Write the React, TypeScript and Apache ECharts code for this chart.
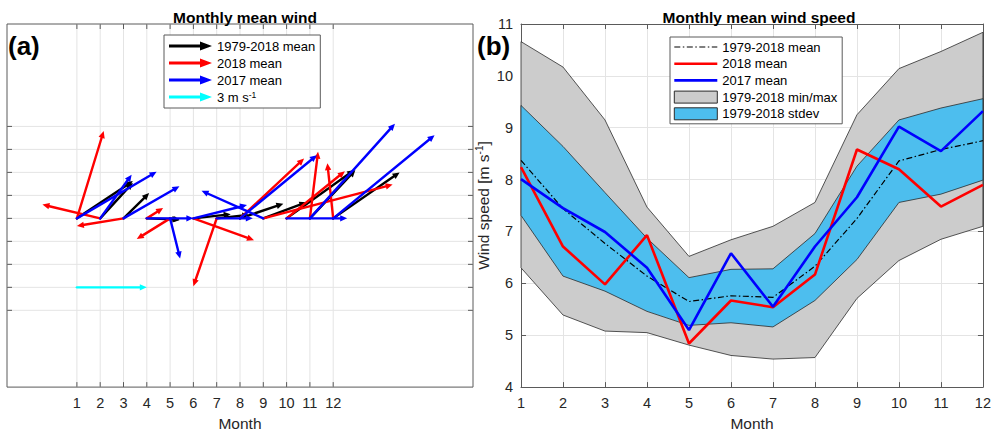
import React, { useEffect, useRef } from 'react';
import * as echarts from 'echarts';

const FONT = 'Liberation Sans, Arial, Helvetica, sans-serif';

// ---------- panel (a): monthly mean wind vectors ----------
const months = [1, 2, 3, 4, 5, 6, 7, 8, 9, 10, 11, 12];
const climU = [2.4, 1.4, 1.1, 1.4, 0.4, 1.6, 1.4, 1.86, 1.85, 2.9, 1.95, 2.85];
const climV = [1.62, 1.55, 1.1, -0.05, -0.08, 0.18, 0.15, 0.64, 0.7, 2.1, 2.1, 2.0];
const u2018 = [1.15, -2.48, -2.0, 0.7, -1.43, 2.6, -1.0, 2.75, 5.55, 2.5, 0.35, -0.25];
const v2018 = [3.8, 0.6, -0.33, 0.45, -0.9, -0.95, -2.95, 2.6, 1.47, 2.05, 2.9, 2.4];
const u2017 = [3.42, 1.35, 2.4, 2.0, 0.43, 2.3, 1.55, 3.3, -2.65, 2.6, 3.65, 4.35];
const v2017 = [2.03, 1.9, 1.4, 0, -1.75, 0.58, 0, 2.75, 1.2, 0, 4.12, 3.62];
const refOrigin = [1, -3];
const refVector = [3, 0];
const gridTicksXA = [1, 2, 3, 4, 5, 6, 7, 8, 9, 10, 11, 12];
const gridTicksYA = [-4, -3, -2, -1, 0, 1, 2, 3, 4];

// ---------- panel (b): monthly mean wind speed ----------
const maxSpeed = [10.66, 10.17, 9.15, 7.47, 6.52, 6.84, 7.1, 7.56, 9.25, 10.14, 10.47, 10.84];
const minSpeed = [6.3, 5.39, 5.08, 5.05, 4.81, 4.61, 4.54, 4.57, 5.71, 6.44, 6.85, 7.1];
const sdHigh = [9.43, 8.64, 7.75, 6.87, 6.11, 6.27, 6.28, 6.96, 8.26, 9.15, 9.38, 9.56];
const sdLow = [7.31, 6.14, 5.85, 5.46, 5.19, 5.24, 5.16, 5.67, 6.46, 7.56, 7.72, 7.99];
const meanSpeed = [8.37, 7.44, 6.77, 6.14, 5.65, 5.76, 5.73, 6.33, 7.25, 8.36, 8.58, 8.75];
const speed2018 = [8.24, 6.71, 5.98, 6.93, 4.84, 5.67, 5.54, 6.17, 8.58, 8.2, 7.48, 7.9];
const speed2017 = [8.01, 7.45, 6.99, 6.3, 5.1, 6.58, 5.55, 6.71, 7.66, 9.02, 8.55, 9.32];

const AXIS_COLOR = '#5a5a5a';
const GRID_COLOR = '#e4e4e4';
const TEXT_COLOR = '#262626';

const ARROW_ICON = 'path://M0,3.6L31,3.6L31,0.6L43,5L31,9.4L31,6.4L0,6.4Z';

function vecData(u: number[], v: number[]) {
  return months.map((m, i) => [m, 0, u[i], v[i]]);
}

function arrowSeries(name: string, color: string, data: number[][], z: number) {
  return {
    type: 'custom',
    name,
    xAxisIndex: 0,
    yAxisIndex: 0,
    z,
    silent: true,
    itemStyle: { color },
    encode: { x: 0, y: 1 },
    data,
    renderItem: (params: any, api: any) => {
      const x0 = api.value(0);
      const y0 = api.value(1);
      const u = api.value(2);
      const v = api.value(3);
      const p0 = api.coord([x0, y0]);
      const p1 = api.coord([x0 + u, y0 + v]);
      const dx = p1[0] - p0[0];
      const dy = p1[1] - p0[1];
      const L = Math.hypot(dx, dy);
      if (L < 0.5) return null;
      const ux = dx / L;
      const uy = dy / L;
      const hl = Math.min(7, L * 0.6);
      const hw = 3.2;
      const bx = p1[0] - ux * hl;
      const by = p1[1] - uy * hl;
      return {
        type: 'group',
        children: [
          {
            type: 'line',
            shape: { x1: p0[0], y1: p0[1], x2: bx + ux * 1, y2: by + uy * 1 },
            style: { stroke: color, lineWidth: 2.4, lineCap: 'round' },
          },
          {
            type: 'polygon',
            shape: {
              points: [
                [p1[0], p1[1]],
                [bx - uy * hw, by + ux * hw],
                [bx + uy * hw, by - ux * hw],
              ],
            },
            style: { fill: color },
          },
        ],
      };
    },
  };
}

function gridSeriesA() {
  const data = [
    ...gridTicksXA.map((x) => [x, 0]),
    ...gridTicksYA.map((y) => [y, 1]),
  ];
  return {
    type: 'custom',
    name: 'gridA',
    xAxisIndex: 0,
    yAxisIndex: 0,
    z: 1,
    silent: true,
    encode: { x: 0, y: 1 },
    data,
    renderItem: (params: any, api: any) => {
      const val = api.value(0);
      const kind = api.value(1);
      const cs = params.coordSys;
      const top = cs.y;
      const bottom = cs.y + cs.height;
      const left = cs.x;
      const right = cs.x + cs.width;
      const t = 5;
      if (kind === 0) {
        const px = api.coord([val, 0])[0];
        return {
          type: 'group',
          children: [
            { type: 'line', shape: { x1: px, y1: top, x2: px, y2: bottom }, style: { stroke: GRID_COLOR, lineWidth: 1 } },
            { type: 'line', shape: { x1: px, y1: bottom, x2: px, y2: bottom - t }, style: { stroke: AXIS_COLOR, lineWidth: 1 } },
            { type: 'line', shape: { x1: px, y1: top, x2: px, y2: top + t }, style: { stroke: AXIS_COLOR, lineWidth: 1 } },
          ],
        };
      }
      const py = api.coord([0, val])[1];
      return {
        type: 'group',
        children: [
          { type: 'line', shape: { x1: left, y1: py, x2: right, y2: py }, style: { stroke: GRID_COLOR, lineWidth: 1 } },
          { type: 'line', shape: { x1: left, y1: py, x2: left + t, y2: py }, style: { stroke: AXIS_COLOR, lineWidth: 1 } },
          { type: 'line', shape: { x1: right, y1: py, x2: right - t, y2: py }, style: { stroke: AXIS_COLOR, lineWidth: 1 } },
        ],
      };
    },
  };
}

function bandSeries(name: string, lo: number[], hi: number[], fill: string, z: number) {
  return {
    type: 'custom',
    name,
    xAxisIndex: 1,
    yAxisIndex: 1,
    z,
    silent: true,
    itemStyle: { color: fill },
    encode: { x: 0, y: 1 },
    data: [[months[0], lo[0]]],
    renderItem: (params: any, api: any) => {
      const upper = months.map((m, i) => api.coord([m, hi[i]]));
      const lower = months.map((m, i) => api.coord([m, lo[i]])).reverse();
      return {
        type: 'polygon',
        shape: { points: upper.concat(lower) },
        style: { fill, stroke: '#2b2b2b', lineWidth: 0.8 },
      };
    },
  };
}

function lineSeries(name: string, values: number[], color: string, width: number, type: any, z: number) {
  return {
    type: 'line',
    name,
    xAxisIndex: 1,
    yAxisIndex: 1,
    z,
    silent: true,
    symbol: 'none',
    data: months.map((m, i) => [m, values[i]]),
    itemStyle: { color },
    lineStyle: { color, width, type },
  };
}

const axisLabelStyle = { color: TEXT_COLOR, fontSize: 14.5, fontFamily: FONT };
const nameStyle = { color: TEXT_COLOR, fontSize: 15.5, fontFamily: FONT };

export default function App() {
  const ref = useRef<HTMLDivElement>(null);
  useEffect(() => {
    if (!ref.current) return;
    const chart = echarts.init(ref.current, undefined, { renderer: 'svg' });
    const option: any = {
      animation: false,
      backgroundColor: '#ffffff',
      title: [
        {
          text: 'Monthly mean wind',
          left: 240,
          top: 4,
          textAlign: 'center',
          textStyle: { fontSize: 15.5, fontWeight: 'bold', color: '#000', fontFamily: FONT },
        },
        {
          text: 'Monthly mean wind speed',
          left: 754,
          top: 4,
          textAlign: 'center',
          textStyle: { fontSize: 15.5, fontWeight: 'bold', color: '#000', fontFamily: FONT },
        },
      ],
      graphic: [
        { type: 'text', left: 8, top: 33, style: { text: '(a)', font: 'bold 26px ' + FONT, fill: '#000' } },
        { type: 'text', left: 477, top: 33, style: { text: '(b)', font: 'bold 26px ' + FONT, fill: '#000' } },
      ],
      legend: [
        {
          left: 164,
          top: 35,
          orient: 'vertical',
          padding: [4, 5, 4, 5],
          itemGap: 3,
          itemWidth: 43,
          itemHeight: 10,
          backgroundColor: '#fff',
          borderColor: AXIS_COLOR,
          borderWidth: 1,
          borderRadius: 0,
          selectedMode: false,
          textStyle: {
            fontSize: 13,
            lineHeight: 14,
            color: '#000',
            fontFamily: FONT,
            rich: { sup: { fontSize: 8.5, lineHeight: 8, verticalAlign: 'top', fontFamily: FONT, color: '#000' } },
          },
          formatter: (n: string) => (n === '3 m s-1' ? '3 m s{sup|-1}' : n),
          data: [
            { name: '1979-2018 mean', icon: ARROW_ICON, itemStyle: { color: '#000000' } },
            { name: '2018 mean', icon: ARROW_ICON, itemStyle: { color: '#ff0000' } },
            { name: '2017 mean', icon: ARROW_ICON, itemStyle: { color: '#0000ff' } },
            { name: '3 m s-1', icon: ARROW_ICON, itemStyle: { color: '#00ffff' } },
          ],
        },
        {
          left: 670,
          top: 37,
          orient: 'vertical',
          padding: [3, 5, 3, 3],
          itemGap: 2.7,
          itemWidth: 43,
          itemHeight: 12,
          backgroundColor: '#fff',
          borderColor: AXIS_COLOR,
          borderWidth: 1,
          borderRadius: 0,
          selectedMode: false,
          lineStyle: { width: 'inherit' },
          textStyle: { fontSize: 13, lineHeight: 14, color: '#000', fontFamily: FONT },
          formatter: (n: string) => n.replace(' (b)', ''),
          data: [
            { name: '1979-2018 mean (b)', itemStyle: { opacity: 0 } },
            { name: '2018 mean (b)', itemStyle: { opacity: 0 } },
            { name: '2017 mean (b)', itemStyle: { opacity: 0 } },
            { name: '1979-2018 min/max', icon: 'rect', itemStyle: { color: '#cccccc', borderColor: '#2b2b2b', borderWidth: 1 } },
            { name: '1979-2018 stdev', icon: 'rect', itemStyle: { color: '#4dbeee', borderColor: '#2b2b2b', borderWidth: 1 } },
          ],
        },
      ],
      grid: [
        { left: 7, top: 24, width: 466, height: 368, show: true, borderColor: AXIS_COLOR, borderWidth: 1, backgroundColor: 'transparent' },
        { left: 521, top: 24, width: 466, height: 369 },
      ],
      xAxis: [
        {
          gridIndex: 0,
          type: 'value',
          min: -2,
          max: 18,
          interval: 1,
          axisLine: { show: false },
          axisTick: { show: false },
          splitLine: { show: false },
          axisLabel: { ...axisLabelStyle, margin: 8, formatter: (v: number) => (v >= 1 && v <= 12 ? String(v) : '') },
          name: 'Month',
          nameLocation: 'middle',
          nameGap: 25,
          nameTextStyle: nameStyle,
        },
        {
          gridIndex: 1,
          type: 'value',
          min: 1,
          max: 12,
          interval: 1,
          axisLine: { show: true, lineStyle: { color: AXIS_COLOR, width: 1 } },
          axisTick: { show: true, inside: true, length: 5, lineStyle: { color: AXIS_COLOR } },
          splitLine: { show: true, lineStyle: { color: GRID_COLOR, width: 1 } },
          axisLabel: { ...axisLabelStyle, margin: 8 },
          name: 'Month',
          nameLocation: 'middle',
          nameGap: 25,
          nameTextStyle: nameStyle,
        },
        {
          gridIndex: 1,
          type: 'value',
          position: 'top',
          min: 1,
          max: 12,
          interval: 1,
          axisLine: { show: true, lineStyle: { color: AXIS_COLOR, width: 1 } },
          axisTick: { show: true, inside: true, length: 5, lineStyle: { color: AXIS_COLOR } },
          splitLine: { show: false },
          axisLabel: { show: false },
        },
      ],
      yAxis: [
        {
          gridIndex: 0,
          type: 'value',
          min: -7.34,
          max: 8.455,
          axisLine: { show: false },
          axisTick: { show: false },
          splitLine: { show: false },
          axisLabel: { show: false },
        },
        {
          gridIndex: 1,
          type: 'value',
          min: 4,
          max: 11,
          interval: 1,
          axisLine: { show: true, lineStyle: { color: AXIS_COLOR, width: 1 } },
          axisTick: { show: true, inside: true, length: 5, lineStyle: { color: AXIS_COLOR } },
          splitLine: { show: true, lineStyle: { color: GRID_COLOR, width: 1 } },
          axisLabel: { ...axisLabelStyle, margin: 8 },
          name: 'Wind speed [m s{sup|-1}]',
          nameLocation: 'middle',
          nameGap: 29,
          nameTextStyle: {
            ...nameStyle,
            lineHeight: 18,
            rich: { sup: { fontSize: 10, lineHeight: 10, verticalAlign: 'top', color: TEXT_COLOR, fontFamily: FONT } },
          },
        },
        {
          gridIndex: 1,
          type: 'value',
          position: 'right',
          min: 4,
          max: 11,
          interval: 1,
          axisLine: { show: true, lineStyle: { color: AXIS_COLOR, width: 1 } },
          axisTick: { show: true, inside: true, length: 5, lineStyle: { color: AXIS_COLOR } },
          splitLine: { show: false },
          axisLabel: { show: false },
        },
      ],
      series: [
        gridSeriesA(),
        arrowSeries('1979-2018 mean', '#000000', vecData(climU, climV), 3),
        arrowSeries('2018 mean', '#ff0000', vecData(u2018, v2018), 4),
        arrowSeries('2017 mean', '#0000ff', vecData(u2017, v2017), 5),
        arrowSeries('3 m s-1', '#00ffff', [[refOrigin[0], refOrigin[1], refVector[0], refVector[1]]], 6),
        bandSeries('1979-2018 min/max', minSpeed, maxSpeed, '#cccccc', 2),
        bandSeries('1979-2018 stdev', sdLow, sdHigh, '#4dbeee', 3),
        lineSeries('1979-2018 mean (b)', meanSpeed, '#000000', 1.2, [6, 2.5, 1.5, 2.5], 4),
        lineSeries('2018 mean (b)', speed2018, '#ff0000', 2.6, 'solid', 5),
        lineSeries('2017 mean (b)', speed2017, '#0000ff', 2.6, 'solid', 6),
      ],
    };
    chart.setOption(option);
    return () => chart.dispose();
  }, []);
  return (
    <div
      ref={ref}
      style={{ position: 'absolute', left: 0, top: 0, width: 994, height: 436, background: '#fff' }}
    />
  );
}
